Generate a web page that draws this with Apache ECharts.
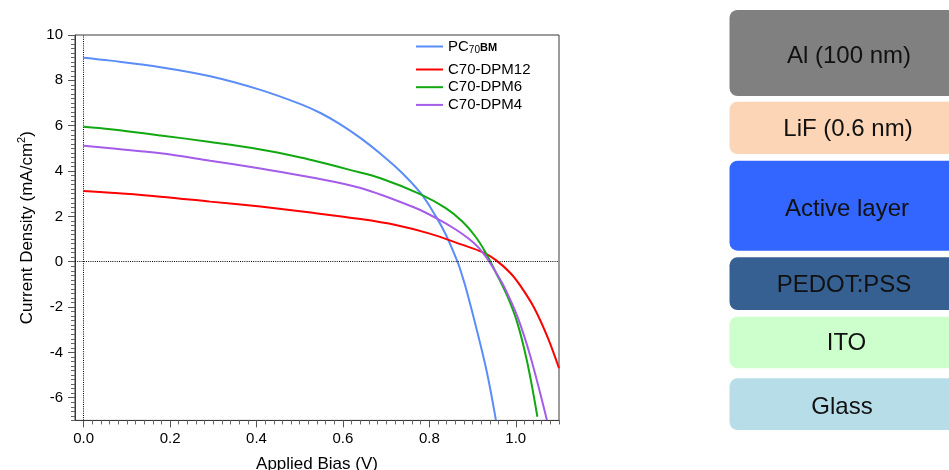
<!DOCTYPE html>
<html><head><meta charset="utf-8">
<script src="https://cdn.jsdelivr.net/npm/echarts@6/dist/echarts.min.js"></script>
<style>html,body{margin:0;padding:0;background:#fff}#c{width:949px;height:470px}</style>
</head><body><div id="c"></div>
<script>
// ---- data ----
const seriesNames = ['PC70BM', 'C70-DPM12', 'C70-DPM6', 'C70-DPM4'];

const pcbmV = [0, 0.062, 0.178, 0.293, 0.409, 0.502, 0.548, 0.595, 0.641, 0.687, 0.734, 0.780, 0.815, 0.838, 0.865, 0.877, 0.888, 0.911, 0.934, 0.954];
const pcbmJ = [9.00, 8.87, 8.58, 8.18, 7.58, 6.95, 6.56, 6.05, 5.45, 4.76, 3.97, 3.02, 2.00, 1.20, 0.00, -0.68, -1.40, -3.10, -4.95, -6.98];

const dpm12V = [0, 0.062, 0.178, 0.293, 0.409, 0.525, 0.641, 0.722, 0.799, 0.877, 0.923, 0.954, 0.988, 1.012, 1.043, 1.074, 1.100];
const dpm12J = [3.12, 3.04, 2.87, 2.65, 2.43, 2.17, 1.88, 1.62, 1.25, 0.74, 0.42, 0.07, -0.51, -1.10, -2.05, -3.35, -4.70];

const dpm6V = [0, 0.062, 0.178, 0.293, 0.409, 0.502, 0.560, 0.618, 0.687, 0.780, 0.838, 0.877, 0.907, 0.930, 0.953, 0.981, 1.004, 1.027, 1.050];
const dpm6J = [5.95, 5.84, 5.57, 5.28, 4.95, 4.60, 4.33, 4.04, 3.68, 2.97, 2.36, 1.76, 1.10, 0.41, -0.44, -1.54, -2.72, -4.48, -6.84];

const dpm4V = [0, 0.062, 0.178, 0.293, 0.409, 0.525, 0.641, 0.768, 0.815, 0.861, 0.892, 0.915, 0.938, 0.958, 0.973, 1.004, 1.034, 1.072];
const dpm4J = [5.12, 5.00, 4.78, 4.45, 4.11, 3.73, 3.25, 2.37, 1.93, 1.42, 1.00, 0.60, 0.02, -0.60, -1.10, -2.43, -4.19, -6.98];

const xTickValues = [0, 0.2, 0.4, 0.6, 0.8, 1.0];
const yTickValues = [-6, -4, -2, 0, 2, 4, 6, 8, 10];

const layerNames = ['Al (100 nm)', 'LiF (0.6 nm)', 'Active layer', 'PEDOT:PSS', 'ITO', 'Glass'];

// ---- layout / style ----
const colors = ['#5b8df9', '#ff0000', '#12a812', '#a45ce9'];
const FONT = "'Liberation Sans', Arial, sans-serif";
const layerLayout = [
  {y: 10, h: 86, c: '#808080', tx: 849, dy: 3},
  {y: 101.7, h: 52.3, c: '#fbd5b5', tx: 848, dy: 2},
  {y: 160.7, h: 90, c: '#3366ff', tx: 847, dy: 4},
  {y: 257.3, h: 52.7, c: '#366092', tx: 844, dy: 2},
  {y: 316.7, h: 51.6, c: '#ccffcc', tx: 846.5, dy: 1},
  {y: 378.3, h: 51.7, c: '#b7dee8', tx: 842, dy: 3}
];

const zip = (a, b) => a.map((v, i) => [v, b[i]]);
const seriesData = [zip(pcbmV, pcbmJ), zip(dpm12V, dpm12J), zip(dpm6V, dpm6J), zip(dpm4V, dpm4J)];

const xMinor = [];
for (let k = 1; k <= 55; k++) { if (k % 10 !== 0) xMinor.push(+(k * 0.02).toFixed(2)); }
const yMinor = [];
for (let k = -35; k <= 50; k++) { if (k % 10 !== 0) yMinor.push(+(k * 0.2).toFixed(1)); }

const XMIN = -0.02, XMAX = 1.1, YMIN = -7, YMAX = 10;

const graphics = [];
layerNames.forEach((name, i) => {
  const L = layerLayout[i];
  graphics.push({type: 'rect', shape: {x: 729.5, y: L.y, width: 240, height: L.h, r: 8}, style: {fill: L.c}, silent: true});
  graphics.push({type: 'text', x: L.tx, y: L.y + L.h / 2 + L.dy, style: {text: name, fill: '#111', fontSize: 24, fontFamily: FONT, align: 'center', verticalAlign: 'middle'}, silent: true});
});

const series = seriesNames.map((n, i) => ({
  name: n, type: 'line', data: seriesData[i], xAxisIndex: 0, yAxisIndex: 0,
  showSymbol: false, smooth: 0.35, clip: true,
  lineStyle: {color: colors[i], width: 2}, itemStyle: {color: colors[i]},
  z: 3
}));
series[0].markLine = {
  silent: true, symbol: 'none', animation: false,
  label: {show: false},
  lineStyle: {color: '#000', width: 1, type: [1, 1.2]},
  data: [{xAxis: 0}, {yAxis: 0}]
};

const chart = echarts.init(document.getElementById('c'), null, {renderer: 'canvas'});
chart.setOption({
  animation: false,
  backgroundColor: '#fff',
  textStyle: {fontFamily: FONT},
  grid: {left: 75, top: 35, width: 484, height: 385.4, containLabel: false, outerBoundsMode: 'none',
         show: true, borderColor: '#3a3a3a', borderWidth: 1, backgroundColor: 'transparent'},
  legend: [
    {data: [seriesNames[0]], left: 416, top: 39, padding: 0, icon: 'rect', itemWidth: 27, itemHeight: 2,
     itemGap: 3, orient: 'vertical',
     formatter: () => '{a|PC}{b|70}{c|BM}',
     textStyle: {color: '#000', fontFamily: FONT,
       rich: {a: {fontSize: 15, fontFamily: FONT, color: '#000'},
              b: {fontSize: 10, fontFamily: FONT, color: '#000', padding: [7, 0, 0, 0]},
              c: {fontSize: 11, fontFamily: FONT, color: '#000', fontWeight: 'bold', padding: [3, 0, 0, 0]}}}},
    {data: seriesNames.slice(1), left: 416, top: 62, padding: 0, icon: 'rect', itemWidth: 27, itemHeight: 2,
     itemGap: 2.7, orient: 'vertical',
     textStyle: {color: '#000', fontSize: 15, lineHeight: 15, fontFamily: FONT}}
  ],
  xAxis: [
    {type: 'value', min: XMIN, max: XMAX, position: 'bottom',
     name: 'Applied Bias (V)', nameLocation: 'middle', nameGap: 35,
     nameTextStyle: {fontSize: 17, color: '#000', fontFamily: FONT},
     axisLine: {show: true, onZero: false, lineStyle: {color: '#3a3a3a', width: 1}},
     axisTick: {show: true, customValues: xTickValues, length: 7, inside: false, lineStyle: {color: '#555'}},
     axisLabel: {show: true, customValues: xTickValues, margin: 11, fontSize: 15, color: '#000', fontFamily: FONT,
                 formatter: v => v.toFixed(1)},
     splitLine: {show: false}},
    {type: 'value', min: XMIN, max: XMAX, position: 'bottom',
     axisLine: {show: false, onZero: false},
     axisTick: {show: true, customValues: xMinor, length: 4, inside: false, lineStyle: {color: '#666'}},
     axisLabel: {show: false}, splitLine: {show: false}}
  ],
  yAxis: [
    {type: 'value', min: YMIN, max: YMAX, position: 'left',
     name: '{t|Current Density (mA/cm}{s|2}{t|)}', nameLocation: 'middle', nameGap: 38,
     nameTextStyle: {color: '#000', fontFamily: FONT,
       rich: {t: {fontSize: 17, fontFamily: FONT, color: '#000'},
              s: {fontSize: 11, fontFamily: FONT, color: '#000', padding: [0, 0, 9, 0]}}},
     axisLine: {show: true, onZero: false, lineStyle: {color: '#3a3a3a', width: 1}},
     axisTick: {show: true, customValues: yTickValues, length: 7, inside: false, lineStyle: {color: '#555'}},
     axisLabel: {show: true, customValues: yTickValues, margin: 12, fontSize: 15, color: '#000', fontFamily: FONT},
     splitLine: {show: false}},
    {type: 'value', min: YMIN, max: YMAX, position: 'left',
     axisLine: {show: false, onZero: false},
     axisTick: {show: true, customValues: yMinor, length: 4, inside: false, lineStyle: {color: '#666'}},
     axisLabel: {show: false}, splitLine: {show: false}}
  ],
  series: series,
  graphic: graphics
});
</script></body></html>
